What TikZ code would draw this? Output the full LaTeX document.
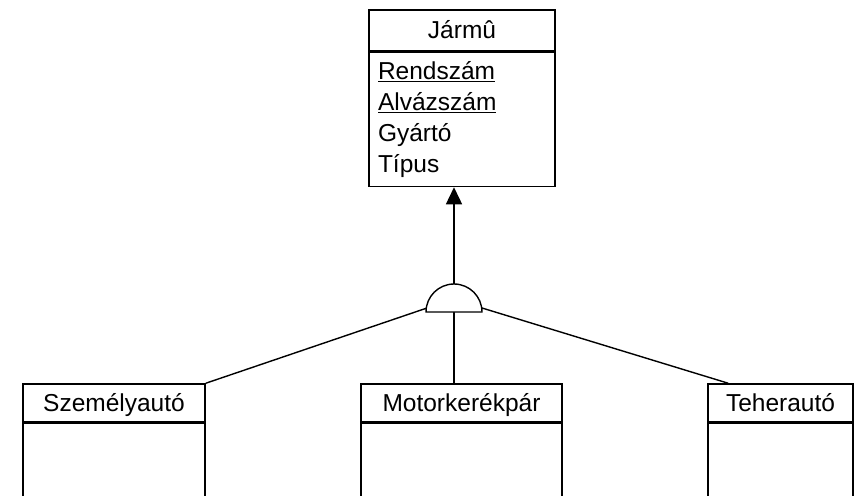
\documentclass[tikz,border=0pt]{standalone}
\usepackage{fontspec}
\setmainfont{Liberation Sans}
\usetikzlibrary{positioning,arrows.meta}

\begin{document}
\begin{tikzpicture}[x=1pt, y=-1pt,
  head/.style={draw, line width=1.5pt, fill=white, minimum height=38pt,
               inner sep=0pt, text height=20pt, text depth=3pt,
               font=\fontsize{24.5}{31}\selectfont},
  body/.style={draw, line width=1.5pt, fill=white, minimum height=120pt,
               inner sep=0pt, font=\fontsize{24.5}{31}\selectfont},
  link/.style={line width=1.4pt},
  isa/.style={-{Triangle[length=17pt,width=16pt]}, line width=1.4pt},
  ]
  \clip (0,0) rectangle (861,495);

  % superclass
  \node[head, minimum width=186pt, minimum height=41pt] (jarmu) at (462,30.5) {Jármû};
  \node[body, minimum width=186pt, minimum height=134pt, text width=168pt,
        align=left, below=0pt of jarmu] (jarmuattr)
        {\underline{Rendszám}\\\underline{Alvázszám}\\Gyártó\\Típus};

  % subclasses
  \node[head, minimum width=182pt] (szemely) at (114,403) {Személyautó};
  \node[body, minimum width=182pt, below=0pt of szemely] (szemelybody) {};
  \node[head, minimum width=201pt] (motor) at (461.5,403) {Motorkerékpár};
  \node[body, minimum width=201pt, below=0pt of motor] (motorbody) {};
  \node[head, minimum width=145pt] (teher) at (780.5,403) {Teherautó};
  \node[body, minimum width=145pt, below=0pt of teher] (teherbody) {};

  % generalization
  \coordinate (isa) at (454,312);
  \coordinate (isatop) at (454,284);
  \coordinate (isaleft) at (427,308);
  \coordinate (isaright) at (482,308);

  \draw[isa] (isatop) -- (jarmuattr.south -| isatop);
  \draw[link] (isa) -- (motor.north -| isa);
  \draw[link] (isaleft) -- (szemely.north east);
  \draw[link] (isaright) -- ([xshift=21pt]teher.north west);
  \draw[link, fill=white] (426,312) arc[start angle=180, end angle=360, radius=28] -- cycle;
\end{tikzpicture}
\end{document}
